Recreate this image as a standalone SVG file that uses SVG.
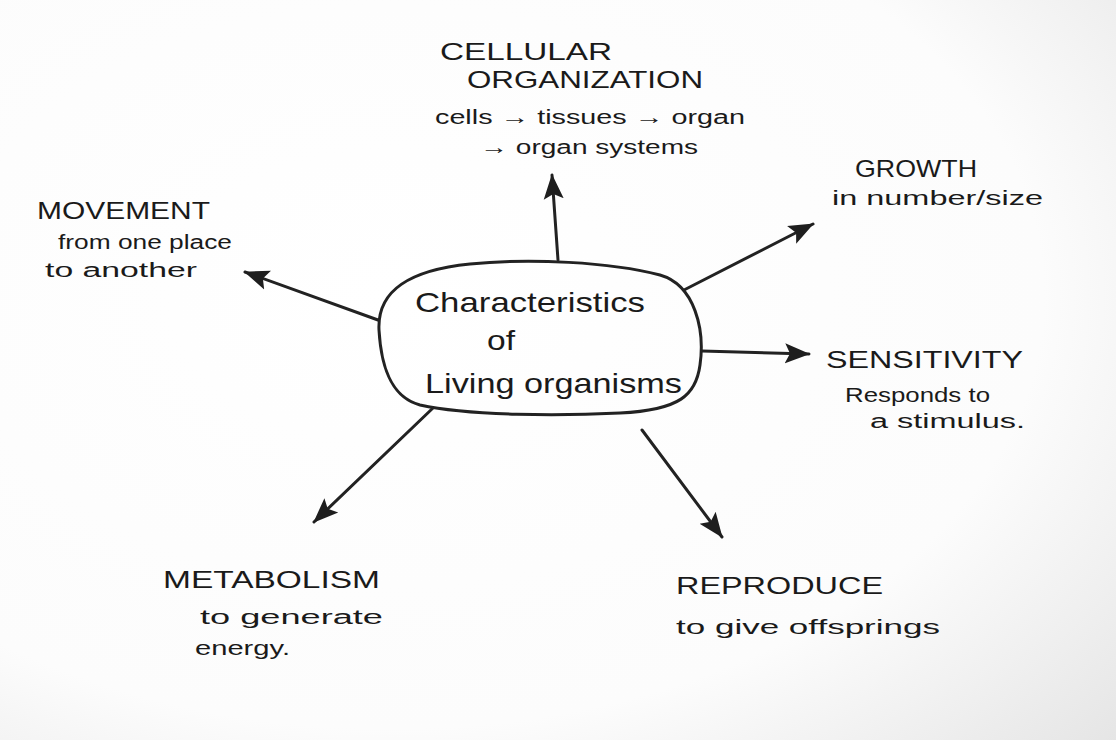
<svg xmlns="http://www.w3.org/2000/svg" width="1116" height="740" viewBox="0 0 1116 740">
<defs>
<radialGradient id="paper" cx="0.35" cy="0.4" r="0.9">
<stop offset="0" stop-color="#ffffff"/>
<stop offset="0.65" stop-color="#fcfcfc"/>
<stop offset="1" stop-color="#e4e4e4"/>
</radialGradient>
<marker id="ah" markerUnits="userSpaceOnUse" markerWidth="28" markerHeight="22" refX="24" refY="11" orient="auto">
<path d="M0,1 L25,11 L0,21 L5,11 Z" fill="#1e1e1e"/>
</marker>
<style>
.t{font-family:"Liberation Sans",Arial,sans-serif;fill:#1a1a1a;}
.h{font-size:24px;}
.s{font-size:20px;}
.c{font-size:28px;}
.ln{stroke:#222;stroke-width:3;fill:none;stroke-linecap:round;}
</style>
</defs>
<rect width="1116" height="740" fill="url(#paper)"/>

<g id="connectors">
<line class="ln" x1="558" y1="260" x2="552" y2="175" marker-end="url(#ah)"/>
<line class="ln" x1="378" y1="320" x2="245" y2="272" marker-end="url(#ah)"/>
<line class="ln" x1="684" y1="290" x2="813" y2="224" marker-end="url(#ah)"/>
<line class="ln" x1="702" y1="351" x2="809" y2="354" marker-end="url(#ah)"/>
<line class="ln" x1="433" y1="408" x2="314" y2="522" marker-end="url(#ah)"/>
<line class="ln" x1="642" y1="430" x2="722" y2="537" marker-end="url(#ah)"/>
</g>

<g id="center">
<path class="ln" d="M379,330 C377,290 410,270 470,264 C530,258 610,262 660,275 C695,285 705,330 700,365 C696,395 680,410 620,413 C560,416 470,416 420,405 C390,397 381,365 379,330 Z"/>
<text class="t c" x="415" y="312" textLength="230" lengthAdjust="spacingAndGlyphs">Characteristics</text>
<text class="t c" x="487" y="350" textLength="28" lengthAdjust="spacingAndGlyphs">of</text>
<text class="t c" x="425" y="393" textLength="257" lengthAdjust="spacingAndGlyphs">Living organisms</text>
</g>

<g id="cellular">
<text class="t h" x="440" y="60" textLength="172" lengthAdjust="spacingAndGlyphs">CELLULAR</text>
<text class="t h" x="467" y="88" textLength="236" lengthAdjust="spacingAndGlyphs">ORGANIZATION</text>
<text class="t s" x="435" y="124" textLength="310" lengthAdjust="spacingAndGlyphs">cells → tissues → organ</text>
<text class="t s" x="480" y="154" textLength="218" lengthAdjust="spacingAndGlyphs">→ organ systems</text>
</g>

<g id="movement">
<text class="t h" x="37" y="219" textLength="173" lengthAdjust="spacingAndGlyphs">MOVEMENT</text>
<text class="t s" x="58" y="249" textLength="174" lengthAdjust="spacingAndGlyphs">from one place</text>
<text class="t s" x="45" y="277" textLength="152" lengthAdjust="spacingAndGlyphs">to another</text>
</g>

<g id="growth">
<text class="t h" x="855" y="177" textLength="122" lengthAdjust="spacingAndGlyphs">GROWTH</text>
<text class="t s" x="832" y="205" textLength="211" lengthAdjust="spacingAndGlyphs">in number/size</text>
</g>

<g id="sensitivity">
<text class="t h" x="826" y="368" textLength="197" lengthAdjust="spacingAndGlyphs">SENSITIVITY</text>
<text class="t s" x="845" y="402" textLength="145" lengthAdjust="spacingAndGlyphs">Responds to</text>
<text class="t s" x="870" y="428" textLength="155" lengthAdjust="spacingAndGlyphs">a stimulus.</text>
</g>

<g id="metabolism">
<text class="t h" x="163" y="588" textLength="217" lengthAdjust="spacingAndGlyphs">METABOLISM</text>
<text class="t s" x="200" y="624" textLength="183" lengthAdjust="spacingAndGlyphs">to generate</text>
<text class="t s" x="195" y="655" textLength="95" lengthAdjust="spacingAndGlyphs">energy.</text>
</g>

<g id="reproduce">
<text class="t h" x="676" y="594" textLength="207" lengthAdjust="spacingAndGlyphs">REPRODUCE</text>
<text class="t s" x="676" y="634" textLength="264" lengthAdjust="spacingAndGlyphs">to give offsprings</text>
</g>
</svg>
